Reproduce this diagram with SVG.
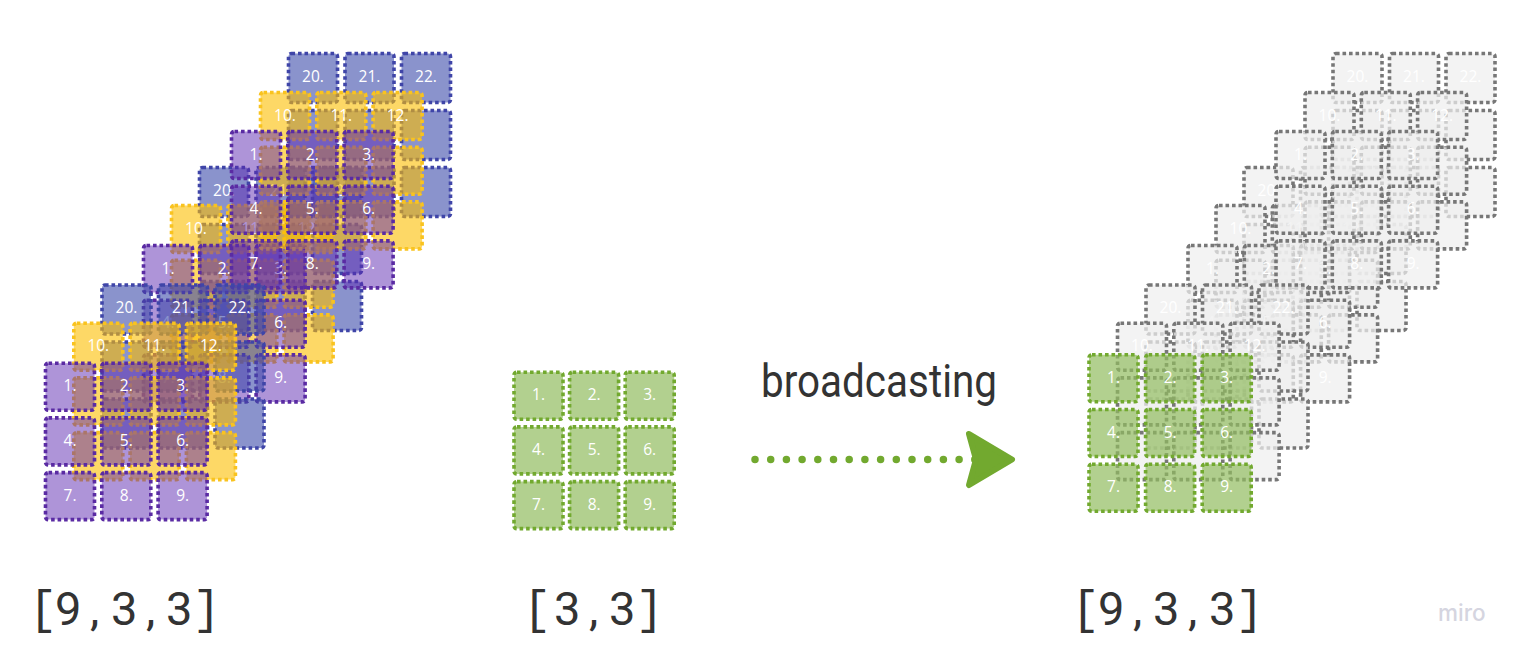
<svg xmlns="http://www.w3.org/2000/svg" width="1522" height="656" viewBox="0 0 1522 656">
<style>
text{font-family:"Open Sans","Noto Sans",sans-serif}
.n text{font-size:15.5px;fill:#fff;text-anchor:middle}
.n rect{stroke-width:3.6;stroke-dasharray:3.6 2.9;rx:3px}
.b rect{fill:rgba(60,75,170,.6);stroke:#3f45a8}
.y rect{fill:rgba(251,190,0,.6);stroke:#f9c31f}
.p rect{fill:rgba(93,41,177,.5);stroke:#5a2ba3}
.g rect{fill:rgba(145,188,95,.7);stroke:#72a92f}
.k rect{fill:rgba(238,238,238,.72);stroke:#777}
.lab{font-family:Roboto,sans-serif;font-weight:400;font-size:47px;fill:#333}
.lab .br{font-family:"Liberation Mono",monospace}
</style>
<g id="left-set-2" class="n">
<g id="l2-blue" class="b" transform="translate(199.5 167.5)">
<g id="l2b1"><rect width="49" height="49" rx="3"/><text x="24.5" y="28">20.</text></g>
<g id="l2b2" transform="translate(56.5 0)"><rect width="49" height="49" rx="3"/><text x="24.5" y="28">21.</text></g>
<g id="l2b3" transform="translate(113 0)"><rect width="49" height="49" rx="3"/><text x="24.5" y="28">22.</text></g>
<g id="l2b4" transform="translate(0 57)"><rect width="49" height="49" rx="3"/></g>
<g id="l2b5" transform="translate(56.5 57)"><rect width="49" height="49" rx="3"/></g>
<g id="l2b6" transform="translate(113 57)"><rect width="49" height="49" rx="3"/></g>
<g id="l2b7" transform="translate(0 114)"><rect width="49" height="49" rx="3"/></g>
<g id="l2b8" transform="translate(56.5 114)"><rect width="49" height="49" rx="3"/></g>
<g id="l2b9" transform="translate(113 114)"><rect width="49" height="49" rx="3"/></g>
</g>
<g id="l2-yellow" class="y" transform="translate(171.5 205.5)">
<g id="l2y1"><rect width="49" height="47" rx="3"/><text x="24.5" y="28">10.</text></g>
<g id="l2y2" transform="translate(56.3 0)"><rect width="49" height="47" rx="3"/><text x="24.5" y="28">11.</text></g>
<g id="l2y3" transform="translate(112.6 0)"><rect width="49" height="47" rx="3"/><text x="24.5" y="28">12.</text></g>
<g id="l2y4" transform="translate(0 54.7)"><rect width="49" height="47" rx="3"/></g>
<g id="l2y5" transform="translate(56.3 54.7)"><rect width="49" height="47" rx="3"/></g>
<g id="l2y6" transform="translate(112.6 54.7)"><rect width="49" height="47" rx="3"/></g>
<g id="l2y7" transform="translate(0 109.4)"><rect width="49" height="47" rx="3"/></g>
<g id="l2y8" transform="translate(56.3 109.4)"><rect width="49" height="47" rx="3"/></g>
<g id="l2y9" transform="translate(112.6 109.4)"><rect width="49" height="47" rx="3"/></g>
</g>
<g id="l2-purple" class="p" transform="translate(143.5 245.5)">
<g id="l2p1"><rect width="49" height="47" rx="3"/><text x="24.5" y="28">1.</text></g>
<g id="l2p2" transform="translate(56.3 0)"><rect width="49" height="47" rx="3"/><text x="24.5" y="28">2.</text></g>
<g id="l2p3" transform="translate(112.6 0)"><rect width="49" height="47" rx="3"/><text x="24.5" y="28">3.</text></g>
<g id="l2p4" transform="translate(0 54.7)"><rect width="49" height="47" rx="3"/><text x="24.5" y="28">4.</text></g>
<g id="l2p5" transform="translate(56.3 54.7)"><rect width="49" height="47" rx="3"/><text x="24.5" y="28">5.</text></g>
<g id="l2p6" transform="translate(112.6 54.7)"><rect width="49" height="47" rx="3"/><text x="24.5" y="28">6.</text></g>
<g id="l2p7" transform="translate(0 109.4)"><rect width="49" height="47" rx="3"/><text x="24.5" y="28">7.</text></g>
<g id="l2p8" transform="translate(56.3 109.4)"><rect width="49" height="47" rx="3"/><text x="24.5" y="28">8.</text></g>
<g id="l2p9" transform="translate(112.6 109.4)"><rect width="49" height="47" rx="3"/><text x="24.5" y="28">9.</text></g>
</g>
</g>
<g id="left-set-3" class="n">
<g id="l3-blue" class="b" transform="translate(288.5 53.5)">
<g id="l3b1"><rect width="49" height="49" rx="3"/><text x="24.5" y="28">20.</text></g>
<g id="l3b2" transform="translate(56.5 0)"><rect width="49" height="49" rx="3"/><text x="24.5" y="28">21.</text></g>
<g id="l3b3" transform="translate(113 0)"><rect width="49" height="49" rx="3"/><text x="24.5" y="28">22.</text></g>
<g id="l3b4" transform="translate(0 57)"><rect width="49" height="49" rx="3"/></g>
<g id="l3b5" transform="translate(56.5 57)"><rect width="49" height="49" rx="3"/></g>
<g id="l3b6" transform="translate(113 57)"><rect width="49" height="49" rx="3"/></g>
<g id="l3b7" transform="translate(0 114)"><rect width="49" height="49" rx="3"/></g>
<g id="l3b8" transform="translate(56.5 114)"><rect width="49" height="49" rx="3"/></g>
<g id="l3b9" transform="translate(113 114)"><rect width="49" height="49" rx="3"/></g>
</g>
<g id="l3-yellow" class="y" transform="translate(260.5 92.5)">
<g id="l3y1"><rect width="49" height="47" rx="3"/><text x="24.5" y="28">10.</text></g>
<g id="l3y2" transform="translate(56.3 0)"><rect width="49" height="47" rx="3"/><text x="24.5" y="28">11.</text></g>
<g id="l3y3" transform="translate(112.6 0)"><rect width="49" height="47" rx="3"/><text x="24.5" y="28">12.</text></g>
<g id="l3y4" transform="translate(0 54.7)"><rect width="49" height="47" rx="3"/></g>
<g id="l3y5" transform="translate(56.3 54.7)"><rect width="49" height="47" rx="3"/></g>
<g id="l3y6" transform="translate(112.6 54.7)"><rect width="49" height="47" rx="3"/></g>
<g id="l3y7" transform="translate(0 109.4)"><rect width="49" height="47" rx="3"/></g>
<g id="l3y8" transform="translate(56.3 109.4)"><rect width="49" height="47" rx="3"/></g>
<g id="l3y9" transform="translate(112.6 109.4)"><rect width="49" height="47" rx="3"/></g>
</g>
<g id="l3-purple" class="p" transform="translate(231.5 131.5)">
<g id="l3p1"><rect width="49" height="47" rx="3"/><text x="24.5" y="28">1.</text></g>
<g id="l3p2" transform="translate(56.3 0)"><rect width="49" height="47" rx="3"/><text x="24.5" y="28">2.</text></g>
<g id="l3p3" transform="translate(112.6 0)"><rect width="49" height="47" rx="3"/><text x="24.5" y="28">3.</text></g>
<g id="l3p4" transform="translate(0 54.7)"><rect width="49" height="47" rx="3"/><text x="24.5" y="28">4.</text></g>
<g id="l3p5" transform="translate(56.3 54.7)"><rect width="49" height="47" rx="3"/><text x="24.5" y="28">5.</text></g>
<g id="l3p6" transform="translate(112.6 54.7)"><rect width="49" height="47" rx="3"/><text x="24.5" y="28">6.</text></g>
<g id="l3p7" transform="translate(0 109.4)"><rect width="49" height="47" rx="3"/><text x="24.5" y="28">7.</text></g>
<g id="l3p8" transform="translate(56.3 109.4)"><rect width="49" height="47" rx="3"/><text x="24.5" y="28">8.</text></g>
<g id="l3p9" transform="translate(112.6 109.4)"><rect width="49" height="47" rx="3"/><text x="24.5" y="28">9.</text></g>
</g>
</g>
<g id="left-set-1" class="n">
<g id="l1-blue" class="b" transform="translate(102 285)">
<g id="l1b1"><rect width="49" height="49" rx="3"/><text x="24.5" y="28">20.</text></g>
<g id="l1b2" transform="translate(56.5 0)"><rect width="49" height="49" rx="3"/><text x="24.5" y="28">21.</text></g>
<g id="l1b3" transform="translate(113 0)"><rect width="49" height="49" rx="3"/><text x="24.5" y="28">22.</text></g>
<g id="l1b4" transform="translate(0 57)"><rect width="49" height="49" rx="3"/></g>
<g id="l1b5" transform="translate(56.5 57)"><rect width="49" height="49" rx="3"/></g>
<g id="l1b6" transform="translate(113 57)"><rect width="49" height="49" rx="3"/></g>
<g id="l1b7" transform="translate(0 114)"><rect width="49" height="49" rx="3"/></g>
<g id="l1b8" transform="translate(56.5 114)"><rect width="49" height="49" rx="3"/></g>
<g id="l1b9" transform="translate(113 114)"><rect width="49" height="49" rx="3"/></g>
</g>
<g id="l1-yellow" class="y" transform="translate(73.8 323.2)">
<g id="l1y1"><rect width="49" height="47" rx="3"/><text x="24.5" y="28">10.</text></g>
<g id="l1y2" transform="translate(56.3 0)"><rect width="49" height="47" rx="3"/><text x="24.5" y="28">11.</text></g>
<g id="l1y3" transform="translate(112.6 0)"><rect width="49" height="47" rx="3"/><text x="24.5" y="28">12.</text></g>
<g id="l1y4" transform="translate(0 54.7)"><rect width="49" height="47" rx="3"/></g>
<g id="l1y5" transform="translate(56.3 54.7)"><rect width="49" height="47" rx="3"/></g>
<g id="l1y6" transform="translate(112.6 54.7)"><rect width="49" height="47" rx="3"/></g>
<g id="l1y7" transform="translate(0 109.4)"><rect width="49" height="47" rx="3"/></g>
<g id="l1y8" transform="translate(56.3 109.4)"><rect width="49" height="47" rx="3"/></g>
<g id="l1y9" transform="translate(112.6 109.4)"><rect width="49" height="47" rx="3"/></g>
</g>
<g id="l1-purple" class="p" transform="translate(45.5 363.2)">
<g id="l1p1"><rect width="49" height="47" rx="3"/><text x="24.5" y="28">1.</text></g>
<g id="l1p2" transform="translate(56.3 0)"><rect width="49" height="47" rx="3"/><text x="24.5" y="28">2.</text></g>
<g id="l1p3" transform="translate(112.6 0)"><rect width="49" height="47" rx="3"/><text x="24.5" y="28">3.</text></g>
<g id="l1p4" transform="translate(0 54.7)"><rect width="49" height="47" rx="3"/><text x="24.5" y="28">4.</text></g>
<g id="l1p5" transform="translate(56.3 54.7)"><rect width="49" height="47" rx="3"/><text x="24.5" y="28">5.</text></g>
<g id="l1p6" transform="translate(112.6 54.7)"><rect width="49" height="47" rx="3"/><text x="24.5" y="28">6.</text></g>
<g id="l1p7" transform="translate(0 109.4)"><rect width="49" height="47" rx="3"/><text x="24.5" y="28">7.</text></g>
<g id="l1p8" transform="translate(56.3 109.4)"><rect width="49" height="47" rx="3"/><text x="24.5" y="28">8.</text></g>
<g id="l1p9" transform="translate(112.6 109.4)"><rect width="49" height="47" rx="3"/><text x="24.5" y="28">9.</text></g>
</g>
</g>
<g id="middle-green" class="n g" transform="translate(514 372.2)">
<g id="m1"><rect width="49" height="47" rx="3"/><text x="24.5" y="28">1.</text></g>
<g id="m2" transform="translate(55.6 0)"><rect width="49" height="47" rx="3"/><text x="24.5" y="28">2.</text></g>
<g id="m3" transform="translate(111.2 0)"><rect width="49" height="47" rx="3"/><text x="24.5" y="28">3.</text></g>
<g id="m4" transform="translate(0 54.7)"><rect width="49" height="47" rx="3"/><text x="24.5" y="28">4.</text></g>
<g id="m5" transform="translate(55.6 54.7)"><rect width="49" height="47" rx="3"/><text x="24.5" y="28">5.</text></g>
<g id="m6" transform="translate(111.2 54.7)"><rect width="49" height="47" rx="3"/><text x="24.5" y="28">6.</text></g>
<g id="m7" transform="translate(0 109.4)"><rect width="49" height="47" rx="3"/><text x="24.5" y="28">7.</text></g>
<g id="m8" transform="translate(55.6 109.4)"><rect width="49" height="47" rx="3"/><text x="24.5" y="28">8.</text></g>
<g id="m9" transform="translate(111.2 109.4)"><rect width="49" height="47" rx="3"/><text x="24.5" y="28">9.</text></g>
</g>
<g id="right-set-2" class="n k">
<g id="r2-blue" transform="translate(1244 167.5)">
<g id="r2b1"><rect width="49" height="49" rx="3"/><text x="24.5" y="28">20.</text></g>
<g id="r2b2" transform="translate(56.5 0)"><rect width="49" height="49" rx="3"/><text x="24.5" y="28">21.</text></g>
<g id="r2b3" transform="translate(113 0)"><rect width="49" height="49" rx="3"/><text x="24.5" y="28">22.</text></g>
<g id="r2b4" transform="translate(0 57)"><rect width="49" height="49" rx="3"/></g>
<g id="r2b5" transform="translate(56.5 57)"><rect width="49" height="49" rx="3"/></g>
<g id="r2b6" transform="translate(113 57)"><rect width="49" height="49" rx="3"/></g>
<g id="r2b7" transform="translate(0 114)"><rect width="49" height="49" rx="3"/></g>
<g id="r2b8" transform="translate(56.5 114)"><rect width="49" height="49" rx="3"/></g>
<g id="r2b9" transform="translate(113 114)"><rect width="49" height="49" rx="3"/></g>
</g>
<g id="r2-yellow" transform="translate(1216 205.5)">
<g id="r2y1"><rect width="49" height="47" rx="3"/><text x="24.5" y="28">10.</text></g>
<g id="r2y2" transform="translate(56.3 0)"><rect width="49" height="47" rx="3"/><text x="24.5" y="28">11.</text></g>
<g id="r2y3" transform="translate(112.6 0)"><rect width="49" height="47" rx="3"/><text x="24.5" y="28">12.</text></g>
<g id="r2y4" transform="translate(0 54.7)"><rect width="49" height="47" rx="3"/></g>
<g id="r2y5" transform="translate(56.3 54.7)"><rect width="49" height="47" rx="3"/></g>
<g id="r2y6" transform="translate(112.6 54.7)"><rect width="49" height="47" rx="3"/></g>
<g id="r2y7" transform="translate(0 109.4)"><rect width="49" height="47" rx="3"/></g>
<g id="r2y8" transform="translate(56.3 109.4)"><rect width="49" height="47" rx="3"/></g>
<g id="r2y9" transform="translate(112.6 109.4)"><rect width="49" height="47" rx="3"/></g>
</g>
<g id="r2-purple" transform="translate(1188 245.5)">
<g id="r2p1"><rect width="49" height="47" rx="3"/><text x="24.5" y="28">1.</text></g>
<g id="r2p2" transform="translate(56.3 0)"><rect width="49" height="47" rx="3"/><text x="24.5" y="28">2.</text></g>
<g id="r2p3" transform="translate(112.6 0)"><rect width="49" height="47" rx="3"/><text x="24.5" y="28">3.</text></g>
<g id="r2p4" transform="translate(0 54.7)"><rect width="49" height="47" rx="3"/><text x="24.5" y="28">4.</text></g>
<g id="r2p5" transform="translate(56.3 54.7)"><rect width="49" height="47" rx="3"/><text x="24.5" y="28">5.</text></g>
<g id="r2p6" transform="translate(112.6 54.7)"><rect width="49" height="47" rx="3"/><text x="24.5" y="28">6.</text></g>
<g id="r2p7" transform="translate(0 109.4)"><rect width="49" height="47" rx="3"/><text x="24.5" y="28">7.</text></g>
<g id="r2p8" transform="translate(56.3 109.4)"><rect width="49" height="47" rx="3"/><text x="24.5" y="28">8.</text></g>
<g id="r2p9" transform="translate(112.6 109.4)"><rect width="49" height="47" rx="3"/><text x="24.5" y="28">9.</text></g>
</g>
</g>
<g id="right-set-3" class="n k">
<g id="r3-blue" transform="translate(1333 53.5)">
<g id="r3b1"><rect width="49" height="49" rx="3"/><text x="24.5" y="28">20.</text></g>
<g id="r3b2" transform="translate(56.5 0)"><rect width="49" height="49" rx="3"/><text x="24.5" y="28">21.</text></g>
<g id="r3b3" transform="translate(113 0)"><rect width="49" height="49" rx="3"/><text x="24.5" y="28">22.</text></g>
<g id="r3b4" transform="translate(0 57)"><rect width="49" height="49" rx="3"/></g>
<g id="r3b5" transform="translate(56.5 57)"><rect width="49" height="49" rx="3"/></g>
<g id="r3b6" transform="translate(113 57)"><rect width="49" height="49" rx="3"/></g>
<g id="r3b7" transform="translate(0 114)"><rect width="49" height="49" rx="3"/></g>
<g id="r3b8" transform="translate(56.5 114)"><rect width="49" height="49" rx="3"/></g>
<g id="r3b9" transform="translate(113 114)"><rect width="49" height="49" rx="3"/></g>
</g>
<g id="r3-yellow" transform="translate(1305 92.5)">
<g id="r3y1"><rect width="49" height="47" rx="3"/><text x="24.5" y="28">10.</text></g>
<g id="r3y2" transform="translate(56.3 0)"><rect width="49" height="47" rx="3"/><text x="24.5" y="28">11.</text></g>
<g id="r3y3" transform="translate(112.6 0)"><rect width="49" height="47" rx="3"/><text x="24.5" y="28">12.</text></g>
<g id="r3y4" transform="translate(0 54.7)"><rect width="49" height="47" rx="3"/></g>
<g id="r3y5" transform="translate(56.3 54.7)"><rect width="49" height="47" rx="3"/></g>
<g id="r3y6" transform="translate(112.6 54.7)"><rect width="49" height="47" rx="3"/></g>
<g id="r3y7" transform="translate(0 109.4)"><rect width="49" height="47" rx="3"/></g>
<g id="r3y8" transform="translate(56.3 109.4)"><rect width="49" height="47" rx="3"/></g>
<g id="r3y9" transform="translate(112.6 109.4)"><rect width="49" height="47" rx="3"/></g>
</g>
<g id="r3-purple" transform="translate(1276 131.5)">
<g id="r3p1"><rect width="49" height="47" rx="3"/><text x="24.5" y="28">1.</text></g>
<g id="r3p2" transform="translate(56.3 0)"><rect width="49" height="47" rx="3"/><text x="24.5" y="28">2.</text></g>
<g id="r3p3" transform="translate(112.6 0)"><rect width="49" height="47" rx="3"/><text x="24.5" y="28">3.</text></g>
<g id="r3p4" transform="translate(0 54.7)"><rect width="49" height="47" rx="3"/><text x="24.5" y="28">4.</text></g>
<g id="r3p5" transform="translate(56.3 54.7)"><rect width="49" height="47" rx="3"/><text x="24.5" y="28">5.</text></g>
<g id="r3p6" transform="translate(112.6 54.7)"><rect width="49" height="47" rx="3"/><text x="24.5" y="28">6.</text></g>
<g id="r3p7" transform="translate(0 109.4)"><rect width="49" height="47" rx="3"/><text x="24.5" y="28">7.</text></g>
<g id="r3p8" transform="translate(56.3 109.4)"><rect width="49" height="47" rx="3"/><text x="24.5" y="28">8.</text></g>
<g id="r3p9" transform="translate(112.6 109.4)"><rect width="49" height="47" rx="3"/><text x="24.5" y="28">9.</text></g>
</g>
</g>
<g id="right-set-1" class="n k">
<g id="r1-blue" transform="translate(1146 285)">
<g id="r1b1"><rect width="49" height="49" rx="3"/><text x="24.5" y="28">20.</text></g>
<g id="r1b2" transform="translate(56.5 0)"><rect width="49" height="49" rx="3"/><text x="24.5" y="28">21.</text></g>
<g id="r1b3" transform="translate(113 0)"><rect width="49" height="49" rx="3"/><text x="24.5" y="28">22.</text></g>
<g id="r1b4" transform="translate(0 57)"><rect width="49" height="49" rx="3"/></g>
<g id="r1b5" transform="translate(56.5 57)"><rect width="49" height="49" rx="3"/></g>
<g id="r1b6" transform="translate(113 57)"><rect width="49" height="49" rx="3"/></g>
<g id="r1b7" transform="translate(0 114)"><rect width="49" height="49" rx="3"/></g>
<g id="r1b8" transform="translate(56.5 114)"><rect width="49" height="49" rx="3"/></g>
<g id="r1b9" transform="translate(113 114)"><rect width="49" height="49" rx="3"/></g>
</g>
<g id="r1-yellow" transform="translate(1117.5 323.2)">
<g id="r1y1"><rect width="49" height="47" rx="3"/><text x="24.5" y="28">10.</text></g>
<g id="r1y2" transform="translate(56.3 0)"><rect width="49" height="47" rx="3"/><text x="24.5" y="28">11.</text></g>
<g id="r1y3" transform="translate(112.6 0)"><rect width="49" height="47" rx="3"/><text x="24.5" y="28">12.</text></g>
<g id="r1y4" transform="translate(0 54.7)"><rect width="49" height="47" rx="3"/></g>
<g id="r1y5" transform="translate(56.3 54.7)"><rect width="49" height="47" rx="3"/></g>
<g id="r1y6" transform="translate(112.6 54.7)"><rect width="49" height="47" rx="3"/></g>
<g id="r1y7" transform="translate(0 109.4)"><rect width="49" height="47" rx="3"/></g>
<g id="r1y8" transform="translate(56.3 109.4)"><rect width="49" height="47" rx="3"/></g>
<g id="r1y9" transform="translate(112.6 109.4)"><rect width="49" height="47" rx="3"/></g>
</g>
</g>
<g id="right-green" class="n g" transform="translate(1089 354.8)">
<g id="rg1"><rect width="49" height="47" rx="3"/><text x="24.5" y="28">1.</text></g>
<g id="rg2" transform="translate(56.6 0)"><rect width="49" height="47" rx="3"/><text x="24.5" y="28">2.</text></g>
<g id="rg3" transform="translate(113.2 0)"><rect width="49" height="47" rx="3"/><text x="24.5" y="28">3.</text></g>
<g id="rg4" transform="translate(0 54.7)"><rect width="49" height="47" rx="3"/><text x="24.5" y="28">4.</text></g>
<g id="rg5" transform="translate(56.6 54.7)"><rect width="49" height="47" rx="3"/><text x="24.5" y="28">5.</text></g>
<g id="rg6" transform="translate(113.2 54.7)"><rect width="49" height="47" rx="3"/><text x="24.5" y="28">6.</text></g>
<g id="rg7" transform="translate(0 109.4)"><rect width="49" height="47" rx="3"/><text x="24.5" y="28">7.</text></g>
<g id="rg8" transform="translate(56.6 109.4)"><rect width="49" height="47" rx="3"/><text x="24.5" y="28">8.</text></g>
<g id="rg9" transform="translate(113.2 109.4)"><rect width="49" height="47" rx="3"/><text x="24.5" y="28">9.</text></g>
</g>
<g id="connectors">
<path d="M755 459.5H975" fill="none" stroke="#72a92f" stroke-width="7.5" stroke-linecap="round" stroke-dasharray="0 15.7"/>
<path d="M969 434L1012 459.5L969 485L976 459.5Z" fill="#72a92f" stroke="#72a92f" stroke-width="6" stroke-linejoin="round"/>
</g>
<text id="broadcasting" x="761" y="397" font-size="46" fill="#333" textLength="236" lengthAdjust="spacingAndGlyphs" style="font-family:Roboto,sans-serif">broadcasting</text>
<text id="shape-left" class="lab"><tspan class="br" x="29" y="623">[</tspan><tspan x="55" y="625">9</tspan><tspan x="90" y="625">,</tspan><tspan x="111" y="625">3</tspan><tspan x="146" y="625">,</tspan><tspan x="166" y="625">3</tspan><tspan class="br" x="192.5" y="623">]</tspan></text>
<text id="shape-middle" class="lab"><tspan class="br" x="523" y="623">[</tspan><tspan x="554" y="625">3</tspan><tspan x="589" y="625">,</tspan><tspan x="609" y="625">3</tspan><tspan class="br" x="635.5" y="623">]</tspan></text>
<text id="shape-right" class="lab"><tspan class="br" x="1071.5" y="623">[</tspan><tspan x="1098" y="625">9</tspan><tspan x="1133" y="625">,</tspan><tspan x="1153" y="625">3</tspan><tspan x="1188" y="625">,</tspan><tspan x="1209" y="625">3</tspan><tspan class="br" x="1235.5" y="623">]</tspan></text>
<text id="miro" x="1438" y="621" font-size="22.5" font-weight="500" fill="#d5d5e0" style="font-family:Inter,sans-serif">miro</text>
</svg>
